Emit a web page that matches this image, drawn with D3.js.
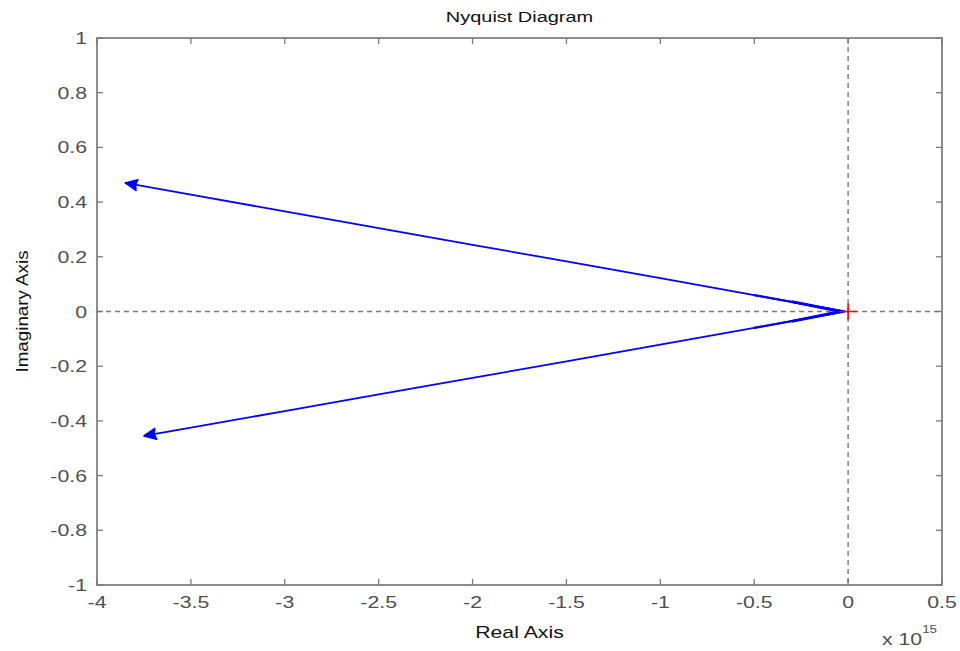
<!DOCTYPE html>
<html><head><meta charset="utf-8">
<script src="https://cdn.jsdelivr.net/npm/d3@7"></script>
<style>body{margin:0;background:#fff;}svg{display:block;font-family:"Liberation Sans",Arial,sans-serif;}</style>
</head><body><svg id="c" width="960" height="651"></svg>
<script>
const xTicks = [-4, -3.5, -3, -2.5, -2, -1.5, -1, -0.5, 0, 0.5];
const yTicks = [-1, -0.8, -0.6, -0.4, -0.2, 0, 0.2, 0.4, 0.6, 0.8, 1];
// Real part in units of 1e15
const upperRe = [-0.02, -0.5, -1.0, -1.5, -2.0, -2.5, -3.0, -3.5, -3.85];
const upperIm = [0.0, 0.06, 0.122, 0.183, 0.244, 0.305, 0.366, 0.427, 0.47];
const lowerRe = [-0.02, -0.5, -1.0, -1.5, -2.0, -2.5, -3.0, -3.5, -3.75];
const lowerIm = [0.0, -0.06, -0.121, -0.182, -0.243, -0.303, -0.364, -0.425, -0.455];
const arrowPts = [{re: -3.85, im: 0.47, src: "upper"}, {re: -3.75, im: -0.455, src: "lower"}];

const svg = d3.select("#c");
const L = 97, R = 942, T = 38, B = 585;
const x = d3.scaleLinear().domain([-4, 0.5]).range([L, R]);
const y = d3.scaleLinear().domain([-1, 1]).range([B, T]);
const grey = "#7a7a7a", txt = "#4f4f4f";
const SX = 1.33; // horizontal stretch of the reference's text

function htext(px, py, str, size, anchor, fill) {
  return svg.append("text")
    .attr("transform", `translate(${px},${py}) scale(${SX},1)`)
    .attr("text-anchor", anchor).attr("font-size", size).attr("fill", fill).text(str);
}

// dashed zero lines
svg.append("line").attr("x1", x(-4)).attr("x2", x(0.5)).attr("y1", y(0)).attr("y2", y(0))
  .attr("stroke", grey).attr("stroke-width", 1.4).attr("stroke-dasharray", "5,4");
svg.append("line").attr("x1", x(0)).attr("x2", x(0)).attr("y1", y(1)).attr("y2", y(-1))
  .attr("stroke", grey).attr("stroke-width", 1.4).attr("stroke-dasharray", "5,4");

// curves
const line = d3.line().x(d => x(d[0])).y(d => y(d[1]));
[[upperRe, upperIm], [lowerRe, lowerIm]].forEach(([re, im]) => {
  svg.append("path").datum(re.map((v, i) => [v, im[i]])).attr("d", line)
    .attr("fill", "none").attr("stroke", "#0000ff").attr("stroke-width", 1.8);
  svg.append("path").datum(re.slice(0, 2).map((v, i) => [v, im[i]])).attr("d", line)
    .attr("fill", "none").attr("stroke", "#0000ff").attr("stroke-width", 2.2);
});
svg.append("path").datum([[-0.3, 0.036], [-0.04, 0], [-0.3, -0.036]]).attr("d", line)
  .attr("fill", "none").attr("stroke", "#0000ff").attr("stroke-width", 3);

// arrowheads (tip at the end of each branch, pointing away from the origin)
arrowPts.forEach(a => {
  const px = x(a.re), py = y(a.im);
  const ox = x(0), oy = y(0);
  const ang = Math.atan2(py - oy, px - ox) * 180 / Math.PI;
  const p = [[0, 0], [-12, -5.5], [-10.5, 0], [-12, 5.5]];
  svg.append("path")
    .attr("d", d3.line()(p) + "Z")
    .attr("transform", `translate(${px},${py}) rotate(${ang})`)
    .attr("fill", "#0000ff").attr("stroke", "#0000ff").attr("stroke-width", 1.5).attr("stroke-linejoin", "round");
});

// red + marker at critical point
svg.append("path").attr("d", `M${x(0) - 8},${y(0)}H${x(0) + 9}M${x(0)},${y(0) - 8}V${y(0) + 8}`)
  .attr("stroke", "#ff0000").attr("stroke-width", 1.6);

// frame
svg.append("rect").attr("x", L).attr("y", T).attr("width", R - L).attr("height", B - T)
  .attr("fill", "none").attr("stroke", grey).attr("stroke-width", 1.7);

// ticks (inward, all sides)
const tl = 6;
xTicks.forEach(v => {
  svg.append("line").attr("x1", x(v)).attr("x2", x(v)).attr("y1", B).attr("y2", B - tl).attr("stroke", grey).attr("stroke-width", 1.3);
  svg.append("line").attr("x1", x(v)).attr("x2", x(v)).attr("y1", T).attr("y2", T + tl).attr("stroke", grey).attr("stroke-width", 1.3);
  htext(x(v), B + 23, v, 16, "middle", txt);
});
yTicks.forEach(v => {
  svg.append("line").attr("x1", L).attr("x2", L + tl).attr("y1", y(v)).attr("y2", y(v)).attr("stroke", grey).attr("stroke-width", 1.3);
  svg.append("line").attr("x1", R).attr("x2", R - tl).attr("y1", y(v)).attr("y2", y(v)).attr("stroke", grey).attr("stroke-width", 1.3);
  htext(L - 10, y(v) + 6, v, 16, "end", txt);
});

// labels
htext((L + R) / 2, 22, "Nyquist Diagram", 15, "middle", "#111");
htext((L + R) / 2, 638, "Real Axis", 16, "middle", "#111");
svg.append("text").attr("transform", `translate(28,${(T + B) / 2}) rotate(-90)`).attr("text-anchor", "middle")
  .attr("font-size", 17).attr("textLength", 122).attr("lengthAdjust", "spacingAndGlyphs")
  .attr("fill", "#111").text("Imaginary Axis");
const ex = svg.append("text").attr("transform", `translate(882,645) scale(${SX},1)`)
  .attr("font-size", 16).attr("fill", txt);
ex.append("tspan").text("x 10");
ex.append("tspan").attr("dy", -12).attr("font-size", 10).text("15");
</script></body></html>
